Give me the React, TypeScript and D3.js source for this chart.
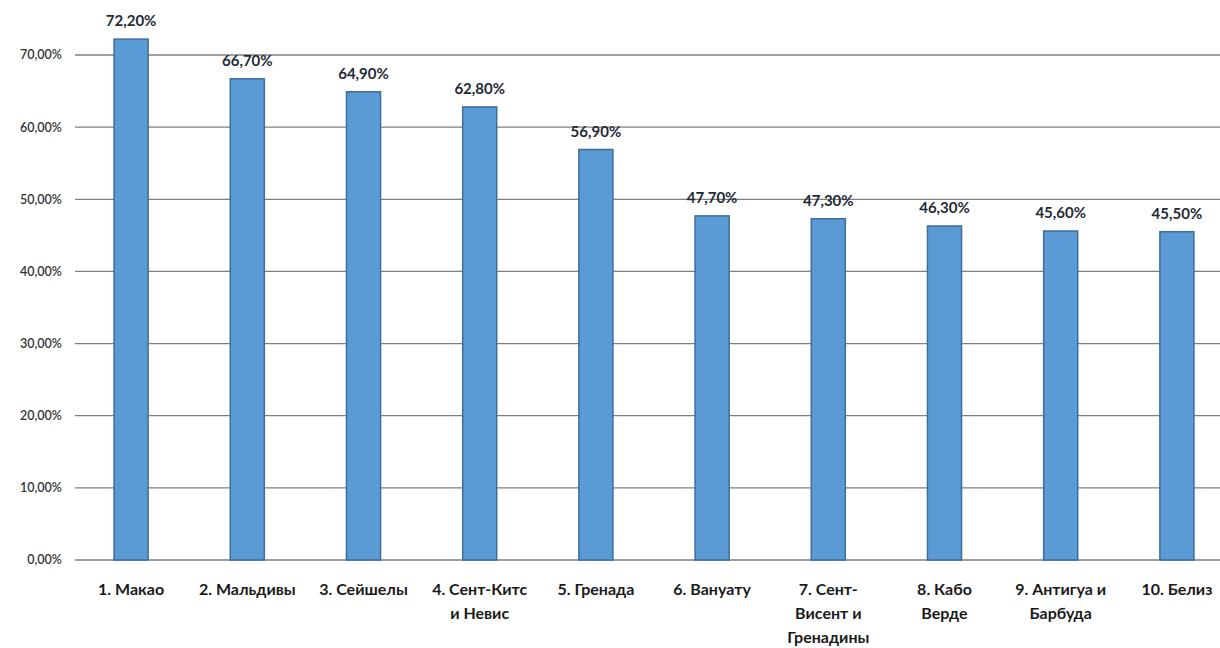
import React from "react";
import * as d3 from "d3";

const categories: string[][] = [
  ["1. Макао"],
  ["2. Мальдивы"],
  ["3. Сейшелы"],
  ["4. Сент-Китс", "и Невис"],
  ["5. Гренада"],
  ["6. Вануату"],
  ["7. Сент-", "Висент и", "Гренадины"],
  ["8. Кабо", "Верде"],
  ["9. Антигуа и", "Барбуда"],
  ["10. Белиз"],
];
const values: number[] = [72.2, 66.7, 64.9, 62.8, 56.9, 47.7, 47.3, 46.3, 45.6, 45.5];
const yTicks: number[] = [0, 10, 20, 30, 40, 50, 60, 70];

const fmt = (v: number) => v.toFixed(2).replace(".", ",") + "%";

export default function App() {
  const W = 1220;
  const H = 648;
  const y = d3.scaleLinear().domain([0, 70]).range([560, 55]);
  const ids = categories.map((_, i) => String(i));
  const x = d3.scaleBand().domain(ids).range([73, 1235]).paddingInner(0.707).paddingOuter(0.3535);
  const font = "Lato, 'Open Sans', sans-serif";
  return (
    <svg width={W} height={H} style={{ position: "absolute", left: 0, top: 0, background: "#fff" }} fontFamily={font}>
      {yTicks.map((t) => (
        <g key={t}>
          <line x1={75} x2={1220} y1={y(t)} y2={y(t)} stroke="#7f7f7f" strokeWidth={1.3} />
          <text x={62} y={y(t)} dy="0.35em" textAnchor="end" fontSize={12.5} fontWeight={600} fill="#333">
            {fmt(t)}
          </text>
        </g>
      ))}
      {values.map((v, i) => {
        const bx = x(ids[i])!;
        const bw = x.bandwidth();
        return (
          <g key={i}>
            <rect x={bx} y={y(v)} width={bw} height={y(0) - y(v)} fill="#5b9bd5" stroke="#3d6d99" strokeWidth={1.5} />
            <text x={bx + bw / 2} y={y(v) - 13} textAnchor="middle" fontSize={15} fontWeight={700} fill="#1f2a36">
              {fmt(v)}
            </text>
          </g>
        );
      })}
      {categories.map((lines, i) => {
        const cx = x(ids[i])! + x.bandwidth() / 2;
        return (
          <text key={i} textAnchor="middle" fontSize={16} fontWeight={700} fill="#1a1a1a">
            {lines.map((l, j) => (
              <tspan key={j} x={cx} y={595 + j * 24}>
                {l}
              </tspan>
            ))}
          </text>
        );
      })}
    </svg>
  );
}
